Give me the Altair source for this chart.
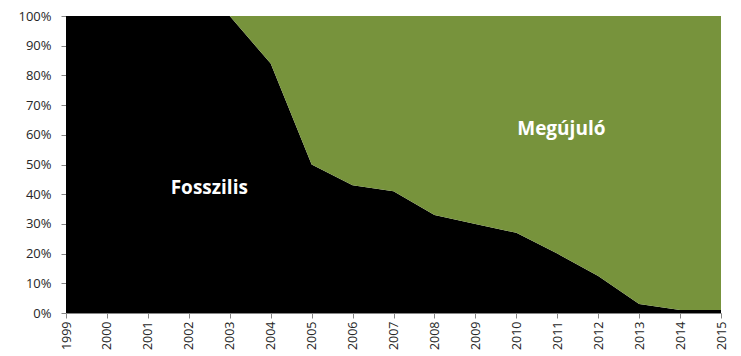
import altair as alt
import pandas as pd

years = list(range(1999, 2016))
fossil = [1.00, 1.00, 1.00, 1.00, 1.00, 0.84, 0.50, 0.43, 0.41, 0.33, 0.30, 0.27, 0.20, 0.125, 0.03, 0.01, 0.01]
renewable = [0.00, 0.00, 0.00, 0.00, 0.00, 0.16, 0.50, 0.57, 0.59, 0.67, 0.70, 0.73, 0.80, 0.875, 0.97, 0.99, 0.99]
series = ["Fosszilis", "Megújuló"]
colors = ["#000000", "#77933C"]
y_ticks = [0.0, 0.1, 0.2, 0.3, 0.4, 0.5, 0.6, 0.7, 0.8, 0.9, 1.0]

label_text = ["Fosszilis", "Megújuló"]
label_year = [2002.5, 2011.1]
label_share = [0.42, 0.62]

rows = []
for i, y in enumerate(years):
    rows.append({"year": y, "series": series[0], "share": fossil[i], "ord": 0})
    rows.append({"year": y, "series": series[1], "share": renewable[i], "ord": 1})
df = pd.DataFrame(rows)
lab = pd.DataFrame({"text": label_text, "year": label_year, "share": label_share})

FONT = "Open Sans"

x_axis = alt.Axis(values=years, format="d", labelAngle=270, labelAlign="right",
                  labelBaseline="middle", labelFontSize=12.5, labelColor="#262626",
                  labelFont=FONT, labelOverlap=False, tickColor="#868686", tickSize=5,
                  domainColor="#868686", grid=False, title=None, labelPadding=3)
y_axis = alt.Axis(values=y_ticks, format=".0%", labelFontSize=13,
                  labelColor="#262626", labelFont=FONT, labelOverlap=False,
                  tickColor="#868686", tickSize=5, domainColor="#868686", grid=False,
                  title=None, labelPadding=10)
x_scale = alt.Scale(domain=[1999, 2015], nice=False, zero=False)
y_scale = alt.Scale(domain=[0, 1], nice=False)

area = alt.Chart(df).mark_area(interpolate="linear", opacity=1).encode(
    x=alt.X("year:Q", scale=x_scale, axis=x_axis),
    y=alt.Y("share:Q", stack="zero", scale=y_scale, axis=y_axis),
    color=alt.Color("series:N", scale=alt.Scale(domain=series, range=colors), legend=None),
    order=alt.Order("ord:Q"),
)

text = alt.Chart(lab).mark_text(color="white", fontWeight="bold", fontSize=19, font=FONT).encode(
    x=alt.X("year:Q", scale=x_scale, axis=x_axis),
    y=alt.Y("share:Q", scale=y_scale, axis=y_axis),
    text="text:N",
)

chart = (area + text).properties(
    width=655, height=297,
    autosize=alt.AutoSizeParams(type="none"),
    padding={"left": 58, "top": 8, "right": 12, "bottom": 40},
    background="white",
).configure_view(stroke=None)

chart.save("out.html", embed_options={"renderer": "svg", "actions": False})
